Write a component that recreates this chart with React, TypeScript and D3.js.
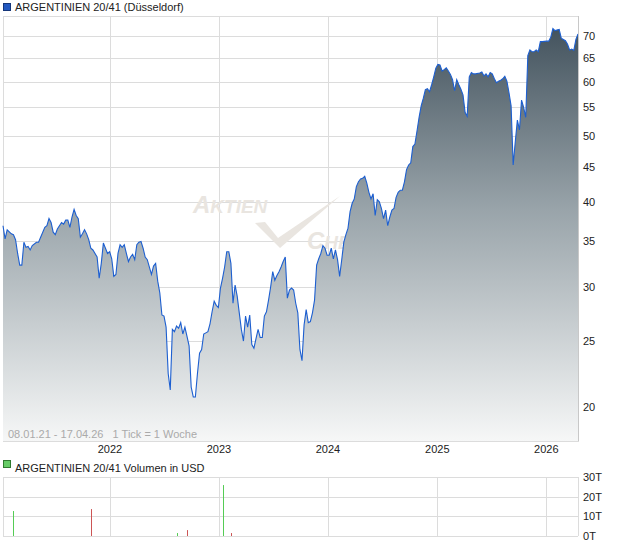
import React from 'react';
import * as d3 from 'd3';

// weekly closes, indexed in weeks since 08.01.21 (1 Tick = 1 Woche)
const priceWeeks = [
  0, 1, 2, 4, 5, 6, 7, 8, 9, 10, 11, 12, 13, 14, 16, 17, 18, 20, 21, 22, 23, 24, 25, 26, 28, 29, 30, 31, 32, 33,
  34, 35, 36, 37, 38, 39, 40, 41, 42, 43, 45, 46, 47, 48, 49, 50, 51, 52, 53, 54, 55, 56, 57, 58, 59, 60, 61, 62,
  63, 64, 65, 66, 67, 68, 69, 71, 72, 73, 74, 75, 76, 77, 78, 79, 80, 81, 82, 83, 84, 85, 86, 87, 88, 89, 90, 91,
  92, 93, 94, 95, 96, 97, 98, 99, 100, 101, 102, 103, 104, 105, 106, 107, 108, 109, 110, 111, 112, 113, 114, 115,
  116, 117, 118, 119, 120, 121, 122, 123, 124, 125, 126, 127, 128, 129, 130, 131, 132, 133, 134, 135, 136, 137,
  138, 139, 140, 141, 142, 143, 144, 145, 146, 147, 148, 149, 150, 151, 152, 153, 154, 155, 156, 157, 158, 159,
  160, 161, 162, 163, 164, 165, 166, 167, 168, 169, 170, 171, 172, 173, 174, 175, 176, 177, 178, 179, 180, 181,
  182, 183, 184, 185, 186, 187, 188, 189, 190, 191, 192, 193, 194, 195, 196, 197, 198, 199, 200, 201, 202, 203,
  204, 205, 206, 207, 208, 209, 210, 211, 212, 213, 214, 215, 216, 217, 218, 219, 220, 221, 222, 223, 224, 225,
  226, 228, 229, 230, 231, 232, 233, 234, 235, 236, 237, 238, 239, 240, 241, 242, 243, 244, 245, 246, 247, 248,
  249, 250, 251, 252, 253, 254, 255, 256, 257, 258, 260, 261, 262, 263, 264, 266, 267, 268, 269, 270, 271, 272,
  273, 274, 275,
];
const prices = [
  36.9, 35.3, 36.4, 35.9, 35.8, 35.2, 33.6, 32.3, 32.3, 34.9, 34.3, 34.4, 34.0, 34.5, 34.9, 34.9, 35.5, 36.7, 36.9, 37.8, 37.3, 36.1, 35.8, 36.5, 37.3, 37.1, 37.6, 37.6, 36.7, 38.0,
  39.0, 38.2, 37.8, 35.5, 35.9, 36.4, 35.9, 35.2, 34.2, 34.0, 33.2, 30.9, 32.5, 34.8, 34.2, 33.6, 33.8, 33.0, 31.1, 31.3, 33.6, 34.6, 34.3, 34.6, 33.6, 32.7, 33.2, 33.5,
  32.9, 34.6, 34.9, 35.0, 34.2, 33.2, 32.9, 31.3, 32.2, 32.5, 30.6, 29.4, 27.3, 27.2, 26.2, 22.4, 21.2, 26.0, 25.8, 26.3, 26.1, 26.6, 25.6, 26.2, 25.4, 24.6, 21.4, 20.7,
  20.7, 22.4, 24.0, 24.3, 25.6, 25.7, 25.8, 26.5, 27.6, 28.6, 28.2, 28.0, 29.9, 30.9, 32.1, 33.8, 33.8, 32.5, 28.4, 30.2, 29.1, 27.5, 26.0, 25.0,
  27.2, 26.2, 27.3, 24.7, 24.4, 25.2, 26.0, 25.3, 25.3, 27.2, 27.6, 28.7, 30.0, 31.6, 30.7, 31.2, 31.6, 32.1, 32.7, 33.2, 28.9, 29.7,
  29.9, 29.7, 28.4, 27.5, 24.3, 23.4, 26.4, 27.8, 26.6, 26.7, 27.5, 28.7, 32.3, 33.0, 33.6, 34.5, 34.2, 33.4, 33.4, 34.2, 33.0, 34.0,
  32.9, 31.1, 32.9, 34.9, 35.8, 36.6, 38.7, 39.8, 40.4, 42.1, 42.8, 43.2, 43.3, 43.6, 42.6, 41.3, 40.4, 41.1, 38.2, 40.3, 40.0, 39.1,
  37.8, 38.9, 36.9, 38.0, 38.9, 39.1, 40.6, 41.3, 41.6, 41.6, 42.8, 44.6, 45.3, 45.6, 48.2, 48.6, 50.8, 53.2, 55.3, 56.7, 58.4, 58.6,
  58.0, 59.4, 61.0, 62.8, 63.6, 63.5, 62.2, 62.5, 62.9, 62.2, 61.5, 60.4, 58.2, 60.4, 59.4, 58.5, 57.4, 54.1, 53.4, 61.0, 61.9, 61.6,
  61.6, 61.8, 62.0, 61.2, 61.6, 61.0, 61.9, 61.6, 60.6, 59.8, 60.1, 60.3, 60.6, 61.1, 60.1, 57.8, 55.3, 45.3, 49.0, 52.7, 51.0, 56.4,
  55.0, 53.2, 65.5, 66.8, 66.4, 66.4, 66.8, 66.4, 68.7, 68.7, 68.8, 68.8, 69.8, 71.8, 71.3, 71.6, 69.5, 69.2, 68.9, 68.1, 66.8, 67.0,
  66.7, 69.2, 70.5,
];

const priceTicks = [20, 25, 30, 35, 40, 45, 50, 55, 60, 65, 70];

// volume bars (in thousand USD), week index and direction
const volWeeks = [5, 42, 83, 88, 105, 109];
const volValues = [12.7, 13.7, 1.5, 3.0, 25.9, 1.5];
const volUp = [true, false, true, false, true, false];
const volTicks = [0, 10, 20, 30];

const START = Date.UTC(2021, 0, 8);
const END = Date.UTC(2026, 3, 17);
const weekDate = (w: number) => new Date(START + w * 7 * 864e5);

const FONT = '"Liberation Sans", Arial, sans-serif';

const App = () => {
  const left = 3;
  const right = 578;
  const top = 16;
  const bottom = 441;
  const vTop = 477;
  const vBottom = 536;

  const x = d3.scaleUtc().domain([new Date(START), new Date(END)]).range([left, right]);
  const y = d3.scaleLog().domain([17.84, 74.9]).range([bottom, top]);
  const yv = d3.scaleLinear().domain([0, 30]).range([vBottom, vTop]);

  const data = priceWeeks.map((w, i) => ({ date: weekDate(w), v: prices[i] }));
  const years = d3.utcYear.range(new Date(START), new Date(END)).filter(d => x(d) > left + 5);

  const line = d3
    .line<{ date: Date; v: number }>()
    .x(d => x(d.date))
    .y(d => y(d.v));
  const area = d3
    .area<{ date: Date; v: number }>()
    .x(d => x(d.date))
    .y0(bottom)
    .y1(d => y(d.v));

  const grid = '#dcdcdc';

  return (
    <svg
      width={620}
      height={546}
      style={{ position: 'absolute', left: 0, top: 0, background: '#fff' }}
      fontFamily={FONT}
    >
      <defs>
        <linearGradient id="fillGrad" gradientUnits="userSpaceOnUse" x1={0} y1={top} x2={0} y2={bottom}>
          <stop offset="0" stopColor="#3e4e59" />
          <stop offset="0.45" stopColor="#98a3a9" />
          <stop offset="1" stopColor="#f6f7f7" />
        </linearGradient>
      </defs>

      {/* legend */}
      <rect x={3.5} y={3.5} width={7} height={7} fill="#2258c0" stroke="#15367a" />
      <text x={15} y={11} fontSize={11} fill="#222">
        ARGENTINIEN 20/41 (Düsseldorf)
      </text>

      {/* grid */}
      {priceTicks.map(t => (
        <line key={t} x1={left} x2={right} y1={Math.round(y(t)) + 0.5} y2={Math.round(y(t)) + 0.5} stroke={grid} />
      ))}
      {years.map(d => (
        <line key={+d} x1={Math.round(x(d)) + 0.5} x2={Math.round(x(d)) + 0.5} y1={top} y2={bottom} stroke={grid} />
      ))}
      <rect x={left + 0.5} y={top + 0.5} width={right - left} height={bottom - top} fill="none" stroke={grid} />

      {/* watermark */}
      <g fill="#e9e5e0" fontStyle="italic" fontWeight="bold">
        <text x={193} y={213} fontSize={24}>
          A<tspan fontSize={19}>KTIEN</tspan>
        </text>
        <path d="M255,223 L265,222 L278,238 L340,196 L280,248 Z" />
        <text x={307} y={249} fontSize={24}>
          C<tspan fontSize={19}>HECK</tspan>
        </text>
      </g>

      {/* price */}
      <path d={area(data) || ''} fill="url(#fillGrad)" />
      <path d={line(data) || ''} fill="none" stroke="#1d5fd0" strokeWidth={1.1} />

      <line x1={right + 0.5} x2={right + 0.5} y1={top} y2={bottom} stroke="#c8c8c8" />

      <text x={8} y={438} fontSize={11} fill="#aaa">
        08.01.21 - 17.04.26{'\u00a0\u00a0\u00a0'}1 Tick = 1 Woche
      </text>

      {/* axes */}
      {priceTicks.map(t => (
        <text key={t} x={583} y={y(t) + 4} fontSize={11} fill="#222">
          {t}
        </text>
      ))}
      {years.map(d => (
        <text key={+d} x={x(d)} y={453} fontSize={11} fill="#222" textAnchor="middle">
          {d.getUTCFullYear()}
        </text>
      ))}

      {/* volume */}
      <rect x={3.5} y={460.5} width={7} height={7} fill="#66cc66" stroke="#2f7a2f" />
      <text x={15} y={472} fontSize={11} fill="#222">
        ARGENTINIEN 20/41 Volumen in USD
      </text>
      {volTicks.map(t => (
        <line key={t} x1={left} x2={right} y1={Math.round(yv(t)) + 0.5} y2={Math.round(yv(t)) + 0.5} stroke={grid} />
      ))}
      {years.map(d => (
        <line key={+d} x1={Math.round(x(d)) + 0.5} x2={Math.round(x(d)) + 0.5} y1={vTop} y2={vBottom} stroke={grid} />
      ))}
      <line x1={left + 0.5} x2={left + 0.5} y1={vTop} y2={vBottom} stroke={grid} />
      <line x1={right + 0.5} x2={right + 0.5} y1={vTop} y2={vBottom} stroke={grid} />
      {volWeeks.map((w, i) => (
        <rect
          key={w}
          x={Math.round(x(weekDate(w)))}
          y={yv(volValues[i])}
          width={1}
          height={vBottom - yv(volValues[i])}
          fill={volUp[i] ? '#55cc55' : '#cc5555'}
        />
      ))}
      {volTicks.map(t => (
        <text key={t} x={583} y={yv(t) + 4} fontSize={11} fill="#222">
          {t}T
        </text>
      ))}
    </svg>
  );
};

export default App;
